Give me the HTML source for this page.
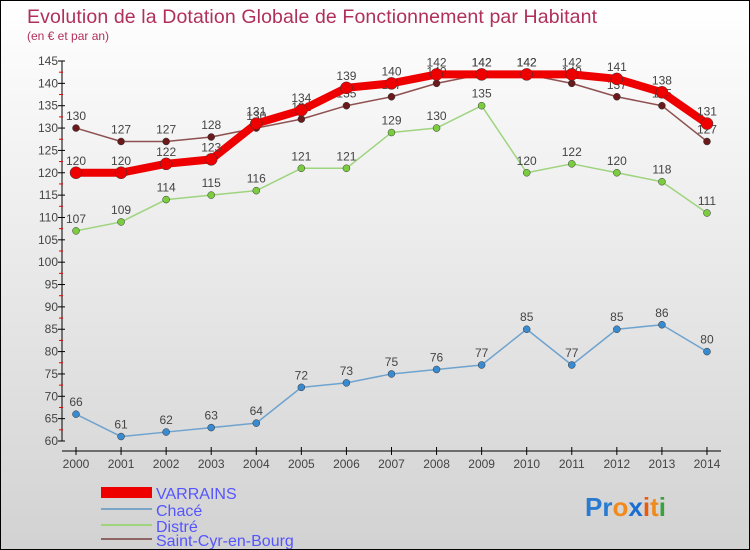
<!DOCTYPE html>
<html><head><meta charset="utf-8"><style>
body{margin:0}
#wrap{position:relative;width:748px;height:548px;border:1px solid #000;background:linear-gradient(#fff,#d2d2d2);font-family:"Liberation Sans",sans-serif;overflow:hidden}
</style></head><body>
<div id="wrap">
<svg id="svg" width="748" height="548" xmlns="http://www.w3.org/2000/svg">
<text x="26" y="22" font-size="19.5" fill="#b0305a" textLength="570">Evolution de la Dotation Globale de Fonctionnement par Habitant</text>
<text x="26" y="39" font-size="12" fill="#b0305a">(en € et par an)</text>
<g id="axes"></g><g id="series"></g>
<g>
<rect x="100" y="486" width="51" height="11" fill="#ee0000"/>
<text x="155" y="498" font-size="16" fill="#5555ff">VARRAINS</text>
<rect x="100" y="507" width="51" height="2" fill="#7ba6c8"/>
<text x="155" y="515" font-size="16" fill="#5555ff">Chacé</text>
<rect x="100" y="523" width="51" height="2" fill="#9ed47e"/>
<text x="155" y="531" font-size="16" fill="#5555ff">Distré</text>
<rect x="100" y="537" width="51" height="2" fill="#8e6464"/>
<text x="155" y="545" font-size="16" fill="#5555ff">Saint-Cyr-en-Bourg</text>
</g>
<g font-size="26" font-weight="bold">
<text x="584" y="515"><tspan fill="#2a7ad0">Pr</tspan><tspan fill="#f08a1c">o</tspan><tspan fill="#1a6ed0">x</tspan><tspan fill="#e85a10">i</tspan><tspan fill="#f08a1c">t</tspan><tspan fill="#3aa040">i</tspan></text>
</g>
</svg>
</div>
<script>
const years=[2000,2001,2002,2003,2004,2005,2006,2007,2008,2009,2010,2011,2012,2013,2014];
const yTicks=[60,65,70,75,80,85,90,95,100,105,110,115,120,125,130,135,140,145];
const varrains=[120,120,122,123,131,134,139,140,142,142,142,142,141,138,131];
const chace=[66,61,62,63,64,72,73,75,76,77,85,77,85,86,80];
const distre=[107,109,114,115,116,121,121,129,130,135,120,122,120,118,111];
const saintCyr=[130,127,127,128,130,132,135,137,140,142,142,140,137,135,127];
const NS="http://www.w3.org/2000/svg";
const X=i=>75+i*45.07;
const Y=v=>440-(v-60)*380/85;
function mk(t,a,p){const e=document.createElementNS(NS,t);for(const k in a)e.setAttribute(k,a[k]);p.appendChild(e);return e;}
const ax=document.getElementById('axes');
let l=mk('line',{x1:61,y1:Y(145),x2:61,y2:440,stroke:'#000'},ax);


l=mk('line',{x1:61,y1:450,x2:720,y2:450,stroke:'#000'},ax);


yTicks.forEach(v=>{
 mk('line',{x1:57,x2:64,y1:Y(v),y2:Y(v),stroke:'#000'},ax);
 if(v<145)mk('line',{x1:58,x2:62,y1:Y(v+2.5),y2:Y(v+2.5),stroke:'#e00'},ax);
 const t=mk('text',{x:57,y:Y(v)+4,'font-size':12,'text-anchor':'end',fill:'#444'},ax);t.textContent=v;
 
 
});
years.forEach((y,i)=>{
 mk('line',{x1:X(i),x2:X(i),y1:446,y2:454,stroke:'#000'},ax);
 const t=mk('text',{x:X(i),y:467,'font-size':12,'text-anchor':'middle',fill:'#444'},ax);t.textContent=y;
 
 
});
const sg=document.getElementById('series');
function draw(data,name,color,dot,w,r){
 const g=mk('g',{},sg);
 
 
 mk('polyline',{points:data.map((v,i)=>X(i)+','+Y(v)).join(' '),fill:'none',stroke:color,'stroke-width':w,'stroke-linejoin':'round'},g);
 data.forEach((v,i)=>{
  const c=mk('circle',{cx:X(i),cy:Y(v),r:r,fill:dot,stroke:'#333','stroke-width':0.5},g);
  
  
  const t=mk('text',{x:X(i),y:Y(v)-8,'font-size':12,'text-anchor':'middle',fill:'#444'},g);t.textContent=v;
  
  
 });
}
draw(chace,'chace','#6fa3cf','#3a8ad0',1.5,3.5);
draw(distre,'distre','#9ed47e','#7ccc40',1.5,3.5);
draw(saintCyr,'saint-cyr','#8e5050','#6a1a1a',1.5,3.5);
draw(varrains,'varrains','#ee0000','#ee0000',8,6);
</script>
</body></html>
